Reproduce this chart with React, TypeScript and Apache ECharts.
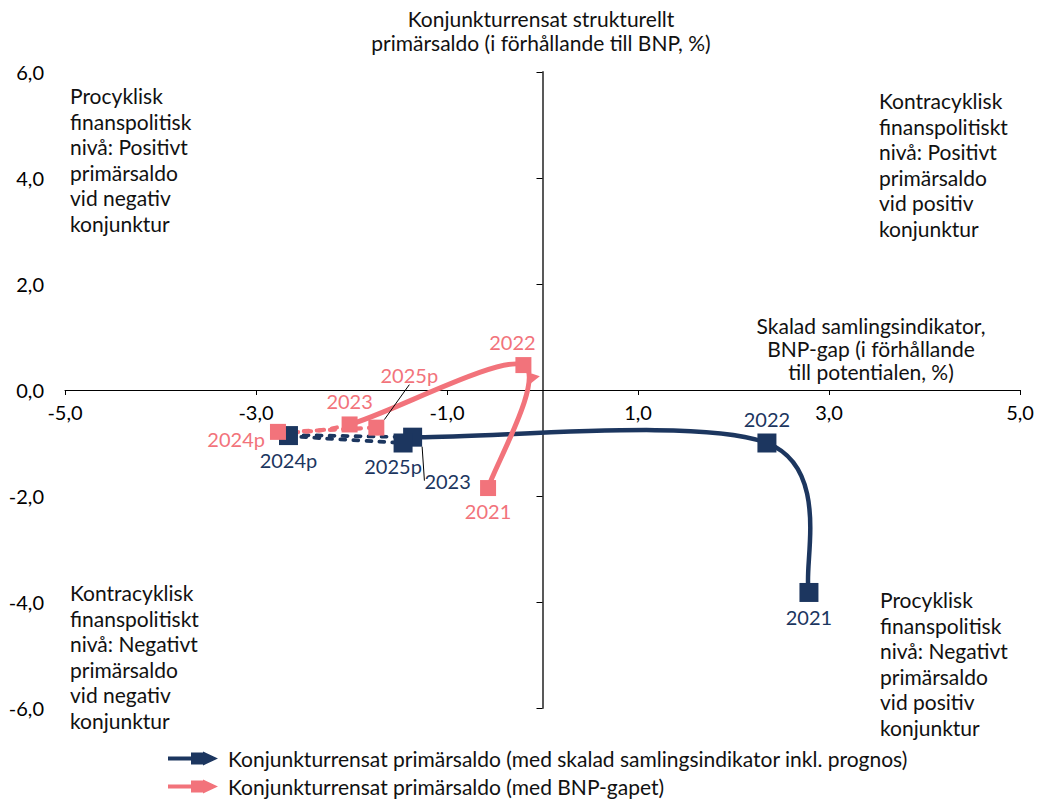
import { useEffect, useRef } from 'react';
import * as echarts from 'echarts';

// Years shown on each point
const years = ['2021', '2022', '2023', '2024p', '2025p'];

// Konjunkturrensat primärsaldo with skalad samlingsindikator (x = indikator, y = saldo)
const samlingX = [2.79, 2.35, -1.36, -2.66, -1.46];
const samlingY = [-3.82, -1.0, -0.89, -0.86, -1.0];

// Konjunkturrensat primärsaldo with BNP-gapet (x = BNP-gap, y = saldo)
const bnpX = [-0.57, -0.2, -2.02, -2.77, -1.74];
const bnpY = [-1.85, 0.47, -0.65, -0.79, -0.71];

// Segments from this index on are forecasts (dashed)
const forecastFrom = 2;

// Axis ranges
const xMin = -5;
const xMax = 5;
const xStep = 2;
const yMin = -6;
const yMax = 6;
const yStep = 2;

const seriesNames = [
  'Konjunkturrensat primärsaldo (med skalad samlingsindikator inkl. prognos)',
  'Konjunkturrensat primärsaldo (med BNP-gapet)',
];

const NAVY = '#1c365f';
const PINK = '#f2737b';
const FONT = 'Lato';
const FS = 21;
const FS_SMALL = 20;

const GRID_TOP = 72;
const GRID_BOTTOM = 91;
const CHART_H = 799;

const fmt = (v: number) => v.toFixed(1).replace('.', ',');

type LabelCfg = { position: string; shift?: number[]; leader?: boolean };

const navyLabelCfg: LabelCfg[] = [
  { position: 'bottom' },
  { position: 'top' },
  { position: 'bottom', shift: [35, 19], leader: true },
  { position: 'bottom' },
  { position: 'bottom', shift: [-10, -2] },
];

const pinkLabelCfg: LabelCfg[] = [
  { position: 'bottom' },
  { position: 'top', shift: [-11, 0] },
  { position: 'top' },
  { position: 'left', shift: [0, 7] },
  { position: 'top', shift: [33, -30], leader: true },
];

function markers(xs: number[], ys: number[], cfg: LabelCfg[]) {
  return xs.map((x, i) => ({
    name: years[i],
    value: [x, ys[i]],
    label: { position: cfg[i].position },
    labelLine: cfg[i].leader
      ? { show: true, lineStyle: { color: '#000', width: 1 } }
      : { show: false },
  }));
}

function shiftLayout(cfg: LabelCfg[]) {
  return (params: any) => {
    const s = cfg[params.dataIndex]?.shift;
    return s ? { dx: s[0], dy: s[1] } : {};
  };
}

// Smoothed connecting line: one cubic Bézier per segment (Catmull-Rom tangents),
// drawn through the chart's own coordinate mapping.
function curveSeries(name: string, xs: number[], ys: number[], color: string, width: number) {
  const n = xs.length;
  const data = xs.slice(0, -1).map((x, i) => [x, ys[i], xs[i + 1], ys[i + 1]]);
  return {
    type: 'custom',
    name,
    coordinateSystem: 'cartesian2d',
    encode: { x: [0, 2], y: [1, 3] },
    data,
    silent: true,
    itemStyle: { color },
    z: 2,
    renderItem: (params: any, api: any) => {
      const i = params.dataIndex;
      const P = (k: number) => {
        const j = Math.max(0, Math.min(n - 1, k));
        return api.coord([xs[j], ys[j]]);
      };
      const p0 = P(i - 1);
      const p1 = P(i);
      const p2 = P(i + 1);
      const p3 = P(i + 2);
      const t = 1 / 6;
      const dashed = i >= forecastFrom;
      return {
        type: 'bezierCurve',
        shape: {
          x1: p1[0],
          y1: p1[1],
          x2: p2[0],
          y2: p2[1],
          cpx1: p1[0] + (p2[0] - p0[0]) * t,
          cpy1: p1[1] + (p2[1] - p0[1]) * t,
          cpx2: p2[0] - (p3[0] - p1[0]) * t,
          cpy2: p2[1] - (p3[1] - p1[1]) * t,
        },
        style: {
          stroke: color,
          fill: 'none',
          lineWidth: dashed ? width - 0.8 : width,
          lineDash: dashed ? [5, 8] : null,
          lineCap: dashed ? 'round' : 'butt',
        },
      };
    },
  };
}

const quadText = (text: string, x: number, y: number) => ({
  type: 'text',
  x,
  y,
  style: {
    text,
    fill: '#111',
    font: `${FS}px ${FONT}`,
    lineHeight: 25.5,
    textAlign: 'left',
    textVerticalAlign: 'top',
  },
});

const legendIcon = 'path://M0,5H26V9H0Z M23,1H35V13H23Z M35,0L50,7L35,14Z';

export default function App() {
  const ref = useRef<HTMLDivElement>(null);

  useEffect(() => {
    document.body.style.margin = '0';
    const chart = echarts.init(ref.current!, null, { renderer: 'svg' });

    const scatterSeries = (
      name: string,
      xs: number[],
      ys: number[],
      cfg: LabelCfg[],
      color: string,
      size: number,
      extra: any = {}
    ) => ({
      type: 'scatter',
      name,
      symbol: 'rect',
      symbolSize: size,
      itemStyle: { color, opacity: 1 },
      data: markers(xs, ys, cfg),
      label: {
        show: true,
        formatter: '{b}',
        color,
        fontFamily: FONT,
        fontSize: FS_SMALL,
        distance: 5,
      },
      labelLayout: shiftLayout(cfg),
      z: 3,
      ...extra,
    });

    // x axis sits where y = 0 (the middle of the symmetric y range)
    const plotH = CHART_H - GRID_TOP - GRID_BOTTOM;
    const zeroShift = -(plotH * (0 - yMin)) / (yMax - yMin);

    const option: any = {
      animation: false,
      textStyle: { fontFamily: FONT },
      grid: { left: 65, right: 22, top: GRID_TOP, bottom: GRID_BOTTOM, containLabel: false },
      xAxis: {
        type: 'value',
        min: xMin,
        max: xMax,
        interval: xStep,
        position: 'bottom',
        offset: zeroShift,
        axisLine: { onZero: false, lineStyle: { color: '#000', width: 1 } },
        axisTick: { show: true, inside: false, length: 5, lineStyle: { color: '#000' } },
        axisLabel: {
          formatter: fmt,
          color: '#000',
          fontSize: FS_SMALL,
          fontFamily: FONT,
          margin: 12,
        },
        splitLine: { show: false },
      },
      yAxis: [
        {
          // vertical line through x = 0 with ticks
          type: 'value',
          position: 'left',
          min: yMin,
          max: yMax,
          interval: yStep,
          axisLine: { show: true, onZero: true, onZeroAxisIndex: 0, lineStyle: { color: '#595959', width: 2 } },
          axisTick: { show: true, length: 6, lineStyle: { color: '#000', width: 1 } },
          axisLabel: { show: false },
          splitLine: { show: false },
        },
        {
          // tick labels along the left edge
          type: 'value',
          position: 'left',
          min: yMin,
          max: yMax,
          interval: yStep,
          axisLine: { show: false, onZero: false },
          axisTick: { show: false },
          axisLabel: {
            formatter: fmt,
            color: '#000',
            fontSize: FS_SMALL,
            fontFamily: FONT,
            margin: 21,
          },
          splitLine: { show: false },
        },
      ],
      legend: {
        orient: 'vertical',
        left: 168,
        top: 748,
        padding: 0,
        itemWidth: 50,
        itemHeight: 14,
        itemGap: 7,
        selectedMode: false,
        textStyle: {
          color: '#111',
          fontSize: FS,
          fontFamily: FONT,
          lineHeight: 21,
          padding: [0, 0, 0, 5],
        },
        data: [
          { name: seriesNames[0], icon: legendIcon, itemStyle: { color: NAVY } },
          { name: seriesNames[1], icon: legendIcon, itemStyle: { color: PINK } },
        ],
      },
      graphic: [
        {
          type: 'text',
          x: 541,
          y: 6,
          style: {
            text: 'Konjunkturrensat strukturellt\nprimärsaldo (i förhållande till BNP, %)',
            fill: '#111',
            font: `${FS}px ${FONT}`,
            lineHeight: 24,
            textAlign: 'center',
            textVerticalAlign: 'top',
          },
        },
        {
          type: 'text',
          x: 871,
          y: 314,
          style: {
            text: 'Skalad samlingsindikator,\nBNP-gap (i förhållande\ntill potentialen, %)',
            fill: '#111',
            font: `${FS}px ${FONT}`,
            lineHeight: 23,
            textAlign: 'center',
            textVerticalAlign: 'top',
          },
        },
        quadText('Procyklisk\nfinanspolitisk\nnivå: Positivt\nprimärsaldo\nvid negativ\nkonjunktur', 70, 83),
        quadText('Kontracyklisk\nfinanspolitiskt\nnivå: Positivt\nprimärsaldo\nvid positiv\nkonjunktur', 879, 88),
        quadText('Kontracyklisk\nfinanspolitiskt\nnivå: Negativt\nprimärsaldo\nvid negativ\nkonjunktur', 70, 580),
        quadText('Procyklisk\nfinanspolitisk\nnivå: Negativt\nprimärsaldo\nvid positiv\nkonjunktur', 880, 587),
      ],
      series: [
        curveSeries(seriesNames[0], samlingX, samlingY, NAVY, 4.5),
        scatterSeries(seriesNames[0], samlingX, samlingY, navyLabelCfg, NAVY, 19),
        curveSeries(seriesNames[1], bnpX, bnpY, PINK, 5),
        scatterSeries(seriesNames[1], bnpX, bnpY, pinkLabelCfg, PINK, 16, {
          markPoint: {
            silent: true,
            label: { show: false },
            data: [
              {
                // arrow head where the 2021–2022 line reaches 2022
                coord: [bnpX[1], bnpY[1]],
                symbol: 'triangle',
                symbolSize: [12, 11],
                symbolRotate: -80,
                symbolOffset: [11, 12],
                itemStyle: { color: PINK },
              },
            ],
          },
        }),
      ],
    };

    chart.setOption(option);
    return () => chart.dispose();
  }, []);

  return <div ref={ref} style={{ width: 1042, height: 799 }} />;
}
